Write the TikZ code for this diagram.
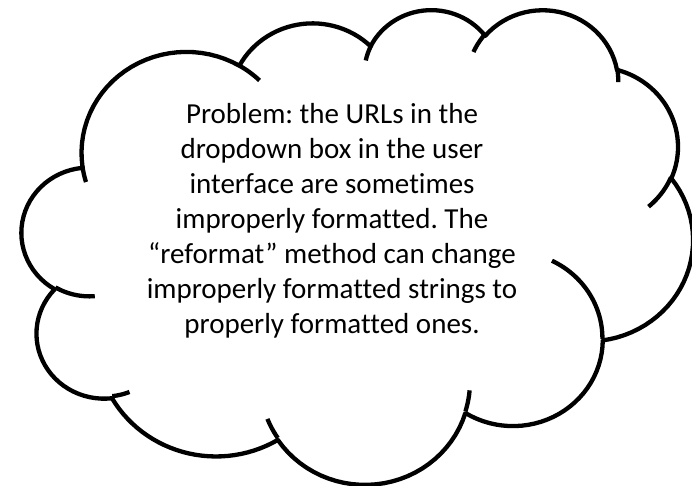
\documentclass[tikz,border=0pt]{standalone}
\usepackage{fontspec}
\setmainfont{Carlito}[Ligatures={NoCommon}]
\frenchspacing
\newcommand\CurX{0}
\newcommand\CurY{0}
\newcommand\CloudAcc{}
% one elliptical arc in DrawingML style (visual angles), appended to \CloudAcc
\newcommand\ArcTo[4]{%
  \pgfmathsetmacro\tA{atan2((#1)*sin(#3),(#2)*cos(#3))}%
  \pgfmathsetmacro\tB{atan2((#1)*sin((#3)+(#4)),(#2)*cos((#3)+(#4)))}%
  \pgfmathsetmacro\dT{\tB-\tA}%
  \pgfmathsetmacro\dT{\dT+360*(\dT<0)}%
  \pgfmathsetmacro\cX{\CurX-(#1)*cos(\tA)}%
  \pgfmathsetmacro\cY{\CurY-(#2)*sin(\tA)}%
  \pgfmathsetmacro\tE{\tA+\dT}%
  \xdef\CloudAcc{\unexpanded\expandafter{\CloudAcc} -- plot[domain=\tA:\tE,samples=30,variable=\noexpand\qq] ({\cX+(#1)*cos(\noexpand\qq)},{\cY+(#2)*sin(\noexpand\qq)})}%
  \pgfmathsetmacro\nX{\cX+(#1)*cos(\tE)}%
  \pgfmathsetmacro\nY{\cY+(#2)*sin(\tE)}%
  \xdef\CurX{\nX}\xdef\CurY{\nY}%
}
\newcommand\CloudTail[6]{%
  \xdef\CurX{#1}\xdef\CurY{#2}\gdef\CloudAcc{}%
  \ArcTo{#3}{#4}{#5}{#6}%
  \edef\TailCmd{\noexpand\draw[cloudline] (#1,#2) \unexpanded\expandafter{\CloudAcc};}\TailCmd
}
\tikzset{
  cloudline/.style={draw=black, line width=4.3pt, line join=round},
  cloudtext/.style={align=center, inner sep=0pt, font=\fontsize{29}{35}\selectfont}
}
\begin{document}
\begin{tikzpicture}[x=1pt,y=1pt]
\useasboundingbox[fill=white] (0,0) rectangle (692,485);
\begin{scope}[shift={(21.9,476.4)}, x=15.53pt, y=-10.985pt]
  \xdef\CurX{3.9}\xdef\CurY{14.37}\gdef\CloudAcc{}%
  \ArcTo{6.753}{9.190}{-190.48748}{123.78053}%
  \ArcTo{5.333}{7.267}{-144.10238}{89.94523}%
  \ArcTo{4.365}{5.945}{-145.80792}{99.72302}%
  \ArcTo{4.857}{6.595}{-130.98607}{117.24173}%
  \ArcTo{5.333}{7.273}{-78.70888}{109.02692}%
  \ArcTo{6.775}{9.220}{-46.26725}{130.26900}%
  \ArcTo{5.785}{7.867}{0.62502}{114.03333}%
  \ArcTo{6.752}{9.215}{22.45160}{115.17255}%
  \ArcTo{7.720}{10.543}{66.24263}{75.71102}%
  \ArcTo{4.360}{5.918}{-274.94208}{146.73557}%
  \ArcTo{4.345}{5.945}{-246.82850}{152.51885}%
  \edef\OuterCmd{\noexpand\draw[cloudline, fill=white] (3.9,14.37) \unexpanded\expandafter{\CloudAcc} -- cycle;}\OuterCmd
  \CloudTail{4.693}{26.177}{4.345}{5.945}{86.742}{26.4295}
  \CloudTail{6.928}{34.899}{4.360}{5.918}{73.61047}{11.44747}
  \CloudTail{16.478}{39.090}{6.752}{9.215}{137.62415}{14.08110}
  \CloudTail{28.827}{34.751}{6.752}{9.215}{6.45327}{15.99835}
  \CloudTail{34.129}{22.954}{5.785}{7.867}{-70.29235}{70.91737}
  \CloudTail{41.798}{15.354}{5.333}{7.273}{30.31803}{27.75150}
  \CloudTail{38.324}{5.426}{4.857}{6.595}{-13.74433}{14.85890}
  \CloudTail{29.078}{3.952}{4.857}{6.595}{-149.18145}{18.19537}
  \CloudTail{22.141}{4.720}{4.365}{5.945}{-163.49427}{17.68635}
  \CloudTail{14.000}{5.192}{6.753}{9.190}{-66.70695}{12.31935}
  \CloudTail{4.127}{15.789}{6.753}{9.190}{157.65435}{11.85817}
\end{scope}
\node[cloudtext] (txt) at (332,264.2) {Problem: the URLs in the\\dropdown box in the user\\interface are sometimes\\improperly formatted. The\\“reformat” method can change\\improperly formatted strings to\\properly formatted ones.};
\end{tikzpicture}
\end{document}
